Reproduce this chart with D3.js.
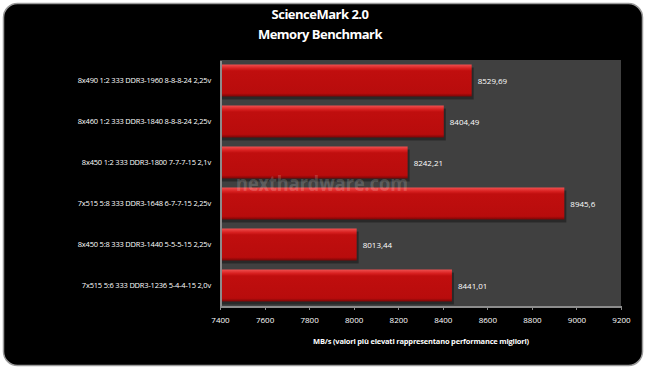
<!DOCTYPE html>
<html lang="it">
<head>
<meta charset="UTF-8">
<title>ScienceMark 2.0</title>
<script src="https://cdn.jsdelivr.net/npm/d3@7"></script>
<style>
    body { margin: 0; background: #fff; }
    .axis path, .axis line { stroke: #8c8c8c; shape-rendering: crispEdges; }
    .axis text { font-family: "Open Sans", sans-serif; font-size: 8px; fill: #fff; }
</style>
</head>
<body>
<div id="output"></div>
<script>

var categories = [
    "8x490 1:2 333 DDR3-1960 8-8-8-24 2,25v",
    "8x460 1:2 333 DDR3-1840 8-8-8-24 2,25v",
    "8x450 1:2 333 DDR3-1800 7-7-7-15 2,1v",
    "7x515 5:8 333 DDR3-1648 6-7-7-15 2,25v",
    "8x450 5:8 333 DDR3-1440 5-5-5-15 2,25v",
    "7x515 5:6 333 DDR3-1236 5-4-4-15 2,0v"
];
var values = [8529.69, 8404.49, 8242.21, 8945.6, 8013.44, 8441.01];
var valueLabels = ["8529,69", "8404,49", "8242,21", "8945,6", "8013,44", "8441,01"];
var xTicks = [7400, 7600, 7800, 8000, 8200, 8400, 8600, 8800, 9000, 9200];

var w = 647, h = 369;
var plot = { left: 220, right: 621, top: 60, bottom: 306 };

var svg = d3.select("#output").append("svg")
    .attr("width", w).attr("height", h);

var defs = svg.append("defs");
var grad = defs.append("linearGradient").attr("id", "barGrad")
    .attr("x1", 0).attr("y1", 0).attr("x2", 0).attr("y2", 1);
grad.append("stop").attr("offset", "0").attr("stop-color", "#f05050");
grad.append("stop").attr("offset", "0.12").attr("stop-color", "#d82020");
grad.append("stop").attr("offset", "0.2").attr("stop-color", "#c00e0e");
grad.append("stop").attr("offset", "0.9").attr("stop-color", "#b80c0c");
grad.append("stop").attr("offset", "1").attr("stop-color", "#7a0606");

// frame
svg.append("rect")
    .attr("x", 3.5).attr("y", 3.5).attr("width", 639).attr("height", 362)
    .attr("rx", 14).attr("fill", "#000").attr("stroke", "#9a9a9a").attr("stroke-width", 1.5);

// titles
svg.append("text").attr("x", 320).attr("y", 19).attr("text-anchor", "middle")
    .style("font-family", "'Open Sans', sans-serif").style("font-weight", "bold")
    .style("font-size", "13px").style("letter-spacing", "-0.5px").attr("fill", "#fff")
    .text("ScienceMark 2.0");
svg.append("text").attr("x", 320).attr("y", 39).attr("text-anchor", "middle")
    .style("font-family", "'Open Sans', sans-serif").style("font-weight", "bold")
    .style("font-size", "13px").style("letter-spacing", "-0.5px").attr("fill", "#fff")
    .text("Memory Benchmark");

var x = d3.scaleLinear().domain([7400, 9200]).range([plot.left, plot.right]);
var y = d3.scaleBand().domain(categories).range([plot.top, plot.bottom]).paddingInner(0.22).paddingOuter(0.11);

// plot background
svg.append("rect")
    .attr("x", plot.left).attr("y", plot.top)
    .attr("width", plot.right - plot.left).attr("height", plot.bottom - plot.top)
    .attr("fill", "#404040");

// shadows
svg.append("g").selectAll("rect").data(values).enter().append("rect")
    .attr("x", plot.left)
    .attr("y", function(d, i){ return y(categories[i]) + 3; })
    .attr("width", function(d){ return x(d) - plot.left + 2; })
    .attr("height", y.bandwidth())
    .attr("fill", "#000").attr("fill-opacity", 0.35);

// bars
svg.append("g").selectAll("rect").data(values).enter().append("rect")
    .attr("x", plot.left)
    .attr("y", function(d, i){ return y(categories[i]); })
    .attr("width", function(d){ return x(d) - plot.left; })
    .attr("height", y.bandwidth())
    .attr("fill", "url(#barGrad)");

// watermark
svg.append("text").attr("x", 236).attr("y", 191)
    .attr("textLength", 172).attr("lengthAdjust", "spacingAndGlyphs")
    .style("font-family", "'Open Sans', sans-serif").style("font-weight", "bold")
    .style("font-size", "21px").attr("fill", "#ffffff").attr("fill-opacity", 0.18)
    .text("nexthardware.com");

// value labels
svg.append("g").selectAll("text").data(values).enter().append("text")
    .attr("x", function(d){ return x(d) + 6; })
    .attr("y", function(d, i){ return y(categories[i]) + y.bandwidth() / 2 + 3; })
    .style("font-family", "'Open Sans', sans-serif").style("font-size", "8px")
    .attr("fill", "#fff")
    .text(function(d, i){ return valueLabels[i]; });

// axes
var xAxis = svg.append("g").attr("class", "axis")
    .attr("transform", "translate(0," + plot.bottom + ")")
    .call(d3.axisBottom(x).tickValues(xTicks).tickSize(4).tickSizeOuter(0).tickPadding(7).tickFormat(d3.format("d")));
xAxis.select(".domain").attr("stroke-width", 2);

var yAxis = svg.append("g").attr("class", "axis")
    .attr("transform", "translate(" + plot.left + ",0)")
    .call(d3.axisLeft(y).tickSize(0).tickPadding(9));
yAxis.select(".domain").attr("stroke-width", 2);
yAxis.selectAll("text").style("font-size", "7.5px").style("letter-spacing", "-0.2px");

svg.append("text").attr("x", 421).attr("y", 344).attr("text-anchor", "middle")
    .style("font-family", "'Open Sans', sans-serif").style("font-weight", "bold")
    .style("font-size", "7.5px").style("letter-spacing", "-0.2px").attr("fill", "#fff")
    .text("MB/s (valori più elevati rappresentano performance migliori)");

</script>
</body>
</html>
